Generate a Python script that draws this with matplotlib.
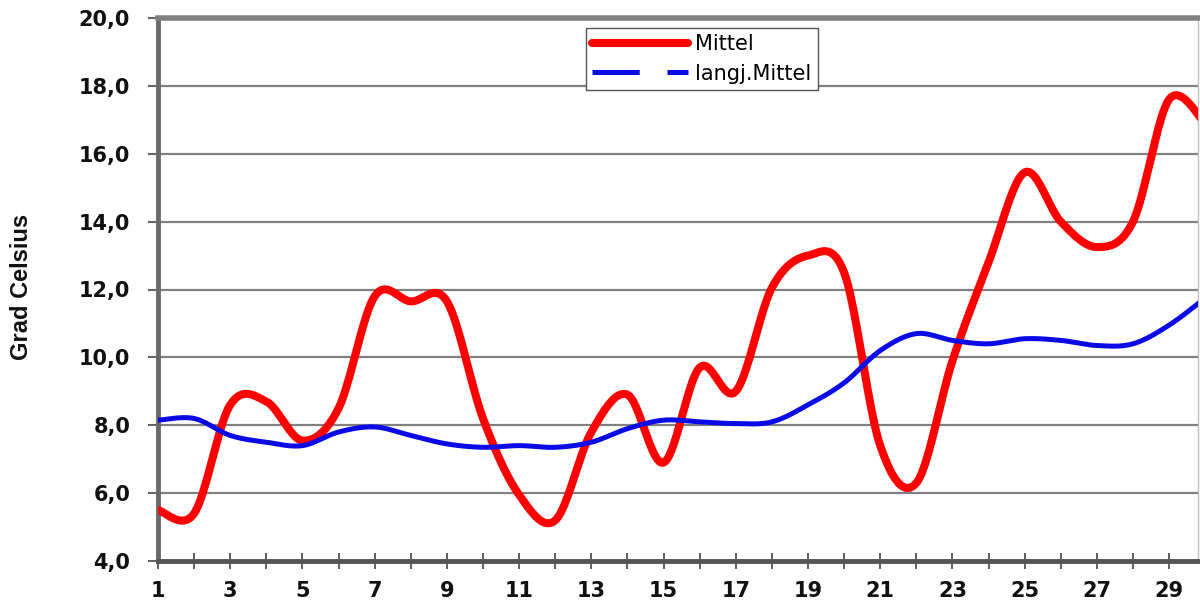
import numpy as np
import matplotlib
matplotlib.use("Agg")
import matplotlib.pyplot as plt
from matplotlib.lines import Line2D
from matplotlib.ticker import FixedLocator, FuncFormatter

# ---- data ----
days = list(range(1, 31))
mittel = [5.5, 5.4, 8.6, 8.7, 7.55, 8.5, 11.8, 11.65, 11.65, 8.2,
          5.95, 5.2, 7.8, 8.9, 6.9, 9.7, 9.0, 12.05, 13.0, 12.5,
          7.4, 6.3, 9.9, 12.8, 15.45, 14.0, 13.25, 14.0, 17.6, 16.9]
langj_mittel = [8.15, 8.2, 7.7, 7.5, 7.4, 7.8, 7.95, 7.7, 7.45, 7.35,
                7.4, 7.35, 7.5, 7.9, 8.15, 8.1, 8.05, 8.1, 8.6, 9.25,
                10.2, 10.7, 10.5, 10.4, 10.55, 10.5, 10.35, 10.4, 10.95, 11.75]
x_tick_labels = [str(d) for d in range(1, 30, 2)]
y_ticks = [4, 6, 8, 10, 12, 14, 16, 18, 20]
label_mittel = "Mittel"
label_langj = "langj.Mittel"
y_label = "Grad Celsius"


def smooth(x, y, n=24):
    """Excel-style smoothed line (Bezier through points, Catmull-Rom tangents)."""
    x = np.asarray(x, float)
    y = np.asarray(y, float)
    P = np.column_stack([x, y])
    P = np.vstack([P[0], P, P[-1]])
    t = np.linspace(0, 1, n)[:, None]
    segs = []
    for i in range(len(x) - 1):
        p0, p1, p2, p3 = P[i], P[i + 1], P[i + 2], P[i + 3]
        c1 = p1 + (p2 - p0) / 6.0
        c2 = p2 - (p3 - p1) / 6.0
        b = ((1 - t) ** 3) * p1 + 3 * ((1 - t) ** 2) * t * c1 + 3 * (1 - t) * t ** 2 * c2 + t ** 3 * p2
        segs.append(b if i == 0 else b[1:])
    B = np.vstack(segs)
    return B[:, 0], B[:, 1]


plt.rcParams['lines.scale_dashes'] = False
fig = plt.figure(figsize=(12, 6.07), dpi=100)
ax = fig.add_axes([158 / 1200, 46 / 607, 1040 / 1200, 543 / 607])

red = '#ff0000'
blue = '#0a0ae6'

xr, yr = smooth(days, mittel)
xb, yb = smooth(days, langj_mittel)
ax.plot(xr, yr, color=red, lw=5.8, solid_capstyle='round', zorder=3)
ax.plot(xb, yb, color=blue, lw=3.6, solid_capstyle='round', zorder=4)

ax.set_xlim(1, 29.8)
ax.set_ylim(4, 20)

# ticks
ax.xaxis.set_major_locator(FixedLocator(list(range(1, 30, 2))))
ax.xaxis.set_minor_locator(FixedLocator(list(range(1, 31))))
ax.set_xticklabels(x_tick_labels)
ax.set_yticks(y_ticks)
ax.yaxis.set_major_formatter(FuncFormatter(lambda v, p: f"{v:.1f}".replace('.', ',')))

for lab in ax.get_xticklabels() + ax.get_yticklabels():
    lab.set_fontfamily('DejaVu Sans')
    lab.set_fontweight('bold')
    lab.set_fontsize(15)
    lab.set_color('#111111')

ax.tick_params(axis='x', which='both', direction='inout', length=11, width=1.2,
               color='#444444', pad=9)
ax.tick_params(axis='y', which='major', direction='out', length=7, width=1.2,
               color='#444444', pad=13)

ax.grid(axis='y', color='#808080', lw=1.6, zorder=1)
ax.set_axisbelow(True)

ax.spines['left'].set_color('#6a6a6a')
ax.spines['left'].set_linewidth(3.5)
ax.spines['bottom'].set_color('#555555')
ax.spines['bottom'].set_linewidth(3.5)
ax.spines['top'].set_color('#808080')
ax.spines['top'].set_linewidth(4)
ax.spines['right'].set_color('#c0c0c0')
ax.spines['right'].set_linewidth(1)

fig.text(22 / 1200, 1 - 287 / 607, y_label, rotation=90, ha='center', va='center',
         family=['Liberation Sans Narrow', 'Liberation Sans', 'DejaVu Sans'],
         weight='bold', size=17, color='#111111')

handles = [Line2D([], [], color=red, lw=5.8, solid_capstyle='round'),
           Line2D([], [], color=blue, lw=3.6, dashes=(34, 20))]
leg = ax.legend(handles, [label_mittel, label_langj], loc='upper left',
                bbox_to_anchor=(586 / 1200, 1 - 28 / 607), bbox_transform=fig.transFigure,
                prop=dict(family='DejaVu Sans', size=15), handlelength=4.6,
                handletextpad=0.35, borderpad=0.3, labelspacing=0.45,
                fancybox=False, framealpha=1, edgecolor='#555555', borderaxespad=0)
leg.get_frame().set_linewidth(1.0)
leg.set_zorder(10)

fig.savefig('out.png', dpi=100)
